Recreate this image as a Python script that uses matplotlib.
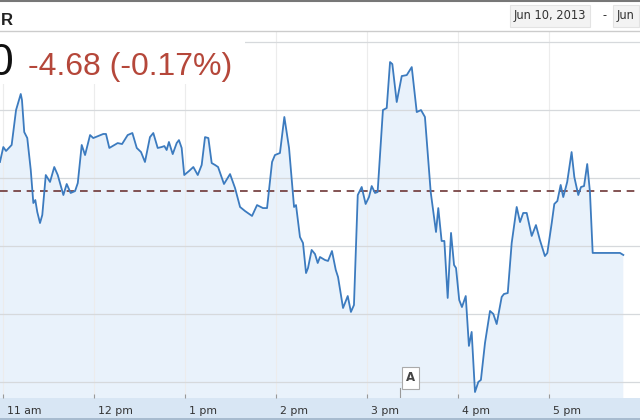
import matplotlib
matplotlib.use("Agg")
import matplotlib.pyplot as plt
from matplotlib.patches import Rectangle
from matplotlib.lines import Line2D
from matplotlib.transforms import ScaledTranslation, blended_transform_factory

# intraday data, minutes after 11:00
minutes = [-2.0, 0.2, 2.0, 5.7, 8.6, 11.7, 12.5, 14.0, 16.0, 18.3,
           20.0, 21.3, 22.6, 24.4, 25.9, 28.2, 31.0, 33.8, 36.1, 39.8,
           42.0, 44.6, 47.5, 49.3, 51.9, 54.1, 57.4, 59.5, 66.1, 67.9,
           70.1, 75.6, 78.5, 82.2, 85.3, 88.2, 91.0, 93.6, 96.9, 99.1,
           102.0, 104.6, 106.4, 107.9, 109.4, 111.9, 114.5, 116.0, 117.8, 119.5,
           122.6, 125.5, 128.4, 131.0, 133.2, 135.4, 137.6, 139.8, 141.8, 145.7,
           149.7, 153.0, 156.3, 159.6, 164.2, 167.5, 171.4, 174.1, 177.4, 179.3,
           182.6, 185.5, 188.6, 191.9, 193.2, 195.8, 197.8, 199.8, 201.1, 203.5,
           205.7, 207.5, 209.0, 212.3, 214.3, 216.9, 219.4, 220.9, 224.2, 227.3,
           229.4, 231.4, 233.9, 236.5, 239.1, 241.3, 243.1, 245.3, 247.0, 250.5,
           253.0, 255.2, 256.7, 259.6, 262.9, 266.2, 269.5, 272.8, 275.6, 278.2,
           282.0, 285.5, 287.0, 289.2, 291.0, 293.2, 295.4, 297.4, 298.7, 300.8,
           302.6, 305.1, 307.2, 309.0, 311.2, 313.4, 315.1, 317.8, 321.1, 323.3,
           325.5, 328.8, 330.3, 332.8, 335.4, 338.7, 340.9, 343.0, 345.3, 348.6,
           351.4, 354.0, 357.3, 358.9, 361.8, 363.5, 365.5, 367.7, 369.4, 372.0,
           374.9, 376.7, 379.3, 381.1, 383.1, 385.2, 387.0, 388.8, 406.8, 409.0]

prices = [2756.18, 2757.28, 2756.99, 2757.43, 2760.00, 2761.18, 2760.74, 2758.38, 2757.94, 2755.59,
          2753.16, 2753.38, 2752.50, 2751.69, 2752.28, 2755.22, 2754.71, 2755.81, 2755.22, 2753.75,
          2754.56, 2753.90, 2754.04, 2754.63, 2757.43, 2756.69, 2758.16, 2757.94, 2758.24, 2758.24,
          2757.21, 2757.57, 2757.50, 2758.16, 2758.31, 2757.21, 2756.91, 2756.18, 2758.01, 2758.31,
          2757.21, 2757.28, 2757.35, 2757.06, 2757.65, 2756.76, 2757.57, 2757.79, 2757.21, 2755.22,
          2755.51, 2755.81, 2755.22, 2755.96, 2758.01, 2757.94, 2756.10, 2755.96, 2755.81, 2754.56,
          2755.29, 2754.26, 2752.87, 2752.57, 2752.21, 2753.01, 2752.79, 2752.79, 2756.18, 2756.69,
          2756.84, 2759.49, 2757.21, 2752.87, 2753.01, 2750.66, 2750.22, 2748.01, 2748.38, 2749.71,
          2749.41, 2748.75, 2749.19, 2748.97, 2748.90, 2749.63, 2748.24, 2747.72, 2745.44, 2746.32,
          2745.15, 2745.66, 2753.75, 2754.34, 2753.09, 2753.60, 2754.41, 2753.90, 2753.97, 2760.00,
          2760.15, 2763.53, 2763.38, 2760.59, 2762.50, 2762.57, 2763.16, 2759.85, 2760.00, 2759.49,
          2753.97, 2751.03, 2752.79, 2750.37, 2750.37, 2746.18, 2750.96, 2748.60, 2748.38, 2746.03,
          2745.51, 2746.32, 2742.65, 2743.68, 2739.26, 2740.00, 2740.15, 2742.87, 2745.22, 2745.00,
          2744.26, 2746.25, 2746.47, 2746.54, 2750.22, 2752.87, 2751.76, 2752.43, 2752.43, 2750.74,
          2751.54, 2750.44, 2749.26, 2749.49, 2751.69, 2753.09, 2753.31, 2754.49, 2753.60, 2754.71,
          2756.91, 2755.07, 2753.75, 2754.34, 2754.41, 2756.03, 2753.97, 2749.49, 2749.49, 2749.34]

assert len(minutes) == len(prices)

prev_close = 2754.02
hour_ticks = [0, 60, 120, 180, 240, 300, 360]
hour_labels = ["11 am", "12 pm", "1 pm", "2 pm", "3 pm", "4 pm", "5 pm"]
grid_levels = [2740, 2745, 2750, 2755, 2760, 2765]
flag_minute = 262
flag_label = "A"

fig = plt.figure(figsize=(6.4, 4.2), dpi=100)
fig.patch.set_facecolor("white")

ax = fig.add_axes([0, 22 / 420, 1, 366 / 420])
ax.set_xlim(-1.98, 420.0)
ax.set_ylim(2738.82, 2765.74)
for s in ax.spines.values():
    s.set_visible(False)

ax.fill_between(minutes, prices, 2730, color="#e9f2fb", lw=0, zorder=0.2)
ax.plot(minutes, prices, color="#3c7bbf", lw=1.3, zorder=3)
ax.axhline(prev_close, color="#6e3636", lw=1.2, ls=(0, (4.6, 3.4)), zorder=2)

ax.set_axisbelow(True)
ax.set_yticks(grid_levels)
ax.set_yticklabels([])
ax.tick_params(axis="y", length=0)
ax.grid(axis="y", color="#d6d9dc", lw=0.9)
ax.set_xticks(hour_ticks)
ax.set_xticklabels(hour_labels, fontsize=7.8, color="#333333", family="DejaVu Sans", ha="left")
ax.tick_params(axis="x", direction="in", length=3, width=0.8, color="#999999", pad=6)
ax.grid(axis="x", color="#ececec", lw=0.8)
offset = ScaledTranslation(4 / 100, 0, fig.dpi_scale_trans)
for lab in ax.get_xticklabels():
    lab.set_transform(lab.get_transform() + offset)

# annotation flag
trans = blended_transform_factory(ax.transData, ax.transAxes)
ax.plot([flag_minute, flag_minute], [0, 0.026], color="#999999", lw=0.8, transform=trans, zorder=4)
ax.text(flag_minute, 0.055, flag_label, transform=trans + ScaledTranslation(10 / 100, 0, fig.dpi_scale_trans),
        ha="center", va="center", fontsize=8.5, fontweight="bold", color="#444444",
        bbox=dict(boxstyle="square,pad=0.35", fc="white", ec="#aaaaaa", lw=0.8), zorder=5)

# bottom axis band (behind the axes so tick labels stay visible)
fig.patches.append(Rectangle((0, 0), 1, 22 / 420, transform=fig.transFigure,
                             facecolor="#d8e6f4", edgecolor="none", zorder=-1))
fig.lines.append(Line2D([0, 1], [1.5 / 420, 1.5 / 420], transform=fig.transFigure, color="#9eb3c8", lw=1.2))

# header area
fig.patches.append(Rectangle((0, 1 - 84 / 420), 245 / 640, 54 / 420, transform=fig.transFigure,
                             facecolor="white", edgecolor="none", zorder=1))
fig.patches.append(Rectangle((0, 1 - 30 / 420), 1, 30 / 420, transform=fig.transFigure,
                             facecolor="white", edgecolor="none", zorder=1))
fig.lines.append(Line2D([0, 1], [1 - 30.5 / 420, 1 - 30.5 / 420], transform=fig.transFigure, color="#cccccc", lw=1))
fig.lines.append(Line2D([0, 1], [1 - 0.8 / 420, 1 - 0.8 / 420], transform=fig.transFigure, color="#777777", lw=1.5))

fig.text(12.5 / 640, 1 - 25 / 420, "R", ha="right", va="baseline", fontsize=12, fontweight="bold",
         family="Liberation Sans", color="#222222", zorder=3)
fig.text(12.5 / 640, 1 - 75 / 420, "0", ha="right", va="baseline", fontsize=32,
         family="Liberation Sans", color="#111111", zorder=3)
fig.text(28 / 640, 1 - 75 / 420, "-4.68 (-0.17%)", ha="left", va="baseline", fontsize=23,
         family="Liberation Sans", color="#b5473a", zorder=3)

fig.text(550 / 640, 1 - 16 / 420, "Jun 10, 2013", ha="center", va="center", fontsize=8.3,
         family="DejaVu Sans", color="#333333", zorder=3,
         bbox=dict(boxstyle="square,pad=0.35", fc="#f3f3f3", ec="#e3e3e3", lw=0.8))
fig.text(605 / 640, 1 - 16 / 420, "-", ha="center", va="center", fontsize=8.3,
         family="DejaVu Sans", color="#333333", zorder=3)
fig.text(617 / 640, 1 - 16 / 420, "Jun", ha="left", va="center", fontsize=8.3,
         family="DejaVu Sans", color="#333333", zorder=3,
         bbox=dict(boxstyle="square,pad=0.35", fc="#f3f3f3", ec="#e3e3e3", lw=0.8))

fig.savefig("out.png", dpi=100, facecolor="white")
